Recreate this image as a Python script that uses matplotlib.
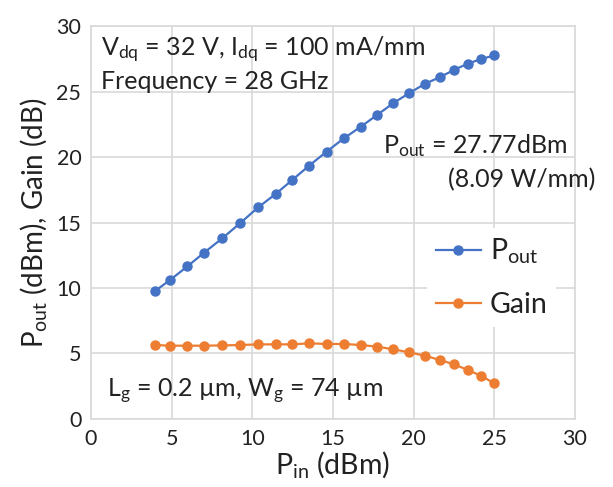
import matplotlib
matplotlib.use("Agg")
import matplotlib.pyplot as plt

pin = [3.97, 4.90, 5.97, 7.02, 8.14, 9.24, 10.37, 11.45, 12.48, 13.53, 14.61,
       15.69, 16.74, 17.75, 18.74, 19.73, 20.71, 21.64, 22.52, 23.35, 24.18, 25.0]
pout = [9.77, 10.61, 11.65, 12.71, 13.80, 14.95, 16.17, 17.19, 18.26, 19.36, 20.43,
        21.45, 22.34, 23.24, 24.13, 24.90, 25.61, 26.12, 26.68, 27.14, 27.50, 27.77]
gain = [5.64, 5.59, 5.59, 5.59, 5.61, 5.64, 5.69, 5.69, 5.69, 5.77, 5.72,
        5.72, 5.64, 5.51, 5.31, 5.08, 4.82, 4.49, 4.16, 3.73, 3.29, 2.71]
ticks = [0, 5, 10, 15, 20, 25, 30]

plt.rcParams['font.family'] = ['Lato', 'DejaVu Sans']
plt.rcParams['mathtext.fontset'] = 'custom'
plt.rcParams['mathtext.rm'] = 'Lato'
plt.rcParams['mathtext.it'] = 'Lato'

fig = plt.figure(figsize=(6.13, 4.87), dpi=100)
ax = fig.add_axes([0.1485, 0.140, 0.7895, 0.806])

blue = '#4472C4'
orange = '#ED7D31'
ax.plot(pin, pout, '-o', color=blue, lw=1.6, ms=6.5, label=r'$\mathregular{P_{out}}$', zorder=3)
ax.plot(pin, gain, '-o', color=orange, lw=1.6, ms=6.5, label='Gain', zorder=3)

ax.set_xlim(0, 30)
ax.set_ylim(0, 30)
ax.set_xticks(ticks)
ax.set_yticks(ticks)
ax.grid(True, color='#D9D9D9', lw=1.2)
ax.set_axisbelow(True)
for s in ax.spines.values():
    s.set_color('#D9D9D9')
    s.set_linewidth(1.2)
tc = '#222222'
ax.tick_params(length=0, labelsize=15.5, colors=tc, pad=7)

ax.set_xlabel(r'$\mathregular{P_{in}}$ (dBm)', fontsize=20.5, color=tc, labelpad=0)
ax.set_ylabel(r'$\mathregular{P_{out}}$ (dBm), Gain (dB)', fontsize=20, color=tc, labelpad=5)

fs = 18
ax.text(0.6, 27.75, r'$\mathregular{V_{dq}}$ = 32 V, $\mathregular{I_{dq}}$ = 100 mA/mm',
        fontsize=fs, va='baseline', ha='left', color=tc)
ax.text(0.6, 25.2, 'Frequency = 28 GHz', fontsize=fs, va='baseline', ha='left', color=tc)
ax.text(18.1, 20.32, r'$\mathregular{P_{out}}$ = 27.77dBm', fontsize=fs, va='baseline', ha='left', color=tc)
ax.text(22.1, 17.73, '(8.09 W/mm)', fontsize=fs, va='baseline', ha='left', color=tc, clip_on=False)
ax.text(1.0, 1.66, r'$\mathregular{L_{g}}$ = 0.2 µm, $\mathregular{W_{g}}$ = 74 µm',
        fontsize=fs, va='baseline', ha='left', color=tc)

leg = ax.legend(loc='center left', bbox_to_anchor=(0.665, 0.36), fontsize=20.5,
                frameon=True, framealpha=1, edgecolor='none', fancybox=False,
                handlelength=1.6, labelspacing=0.9, borderpad=0.3, handletextpad=0.3)
for t in leg.get_texts():
    t.set_color(tc)

fig.savefig('out.png', dpi=100)
